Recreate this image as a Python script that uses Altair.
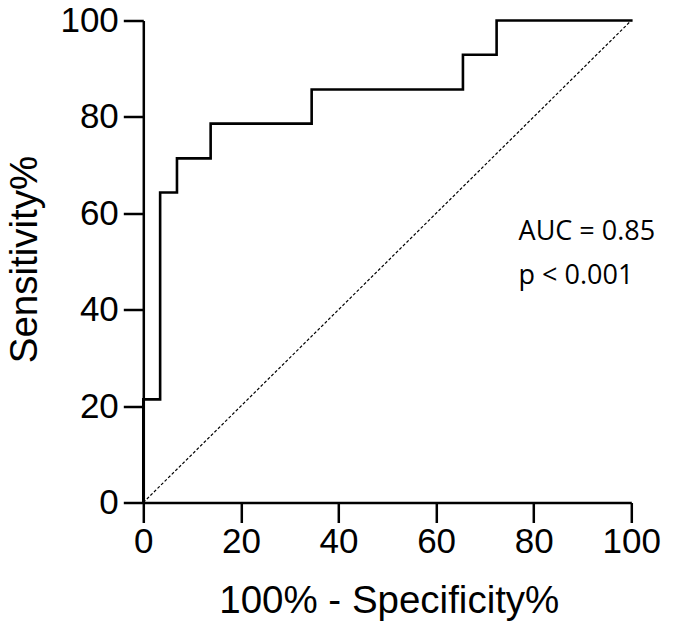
import altair as alt
import pandas as pd

# ROC curve step points (100% - Specificity%, Sensitivity%)
fpr = [0, 0, 3.45, 3.45, 6.9, 6.9, 13.8, 13.8, 34.5, 34.5, 65.5, 65.5, 72.4, 72.4, 100]
sens = [0, 21.4, 21.4, 64.3, 64.3, 71.4, 71.4, 78.6, 78.6, 85.7, 85.7, 92.9, 92.9, 100, 100]

diag_x = [0, 100]
diag_y = [0, 100]

ticks = [0, 20, 40, 60, 80, 100]

notes = ["AUC = 0.85", "p < 0.001"]
note_x = [76.9, 76.9]
note_y = [54.5, 45.3]

roc = pd.DataFrame({"x": fpr, "y": sens, "order": list(range(len(fpr)))})
diag = pd.DataFrame({"x": diag_x, "y": diag_y})
ann = pd.DataFrame({"label": notes, "x": note_x, "y": note_y})

FONT = "Liberation Sans"

xscale = alt.Scale(domain=[0, 100], nice=False, zero=False)
yscale = alt.Scale(domain=[0, 100], nice=False, zero=False)

xaxis = alt.Axis(
    values=ticks, grid=False, title="100% - Specificity%",
    domainColor="black", domainWidth=2.5, tickColor="black", tickWidth=2.5,
    tickSize=20, labelFontSize=35, labelFont=FONT, labelColor="black",
    labelPadding=2, labelFlush=False, labelOverlap=False,
    titleFont=FONT, titleFontSize=38.5, titleFontWeight="normal", titleColor="black",
    titleX=245.5, titleY=110.5, titleBaseline="alphabetic", titleAlign="center",
)
yaxis = alt.Axis(
    values=ticks, grid=False, title="Sensitivity%",
    domainColor="black", domainWidth=2.5, tickColor="black", tickWidth=2.5,
    tickSize=20, labelFontSize=35, labelFont=FONT, labelColor="black",
    labelPadding=5, labelFlush=False, labelOverlap=False,
    titleFont=FONT, titleFontSize=38.5, titleFontWeight="normal", titleColor="black",
    titleX=-107, titleY=238.5, titleBaseline="alphabetic", titleAlign="center", titleAngle=-90,
)

diag_layer = alt.Chart(diag).mark_line(
    color="black", strokeWidth=1.2, strokeDash=[3, 2], clip=False
).encode(
    x=alt.X("x:Q", scale=xscale, axis=xaxis),
    y=alt.Y("y:Q", scale=yscale, axis=yaxis),
)

roc_layer = alt.Chart(roc).mark_line(
    color="black", strokeWidth=2.6, strokeJoin="miter", strokeCap="square", clip=False
).encode(
    x=alt.X("x:Q", scale=xscale),
    y=alt.Y("y:Q", scale=yscale),
    order="order:Q",
)

text_layer = alt.Chart(ann).mark_text(
    align="left", baseline="alphabetic", font="Open Sans", fontSize=27, color="black"
).encode(
    x=alt.X("x:Q", scale=xscale),
    y=alt.Y("y:Q", scale=yscale),
    text="label:N",
)

chart = alt.layer(diag_layer, roc_layer, text_layer).properties(
    width=488, height=482,
    autosize=alt.AutoSizeParams(type="none"),
    padding={"left": 135.3, "top": 12.5, "right": 40, "bottom": 120},
    background="white",
).configure_view(stroke=None)

chart.save("out.html", embed_options={"renderer": "svg", "actions": False})
